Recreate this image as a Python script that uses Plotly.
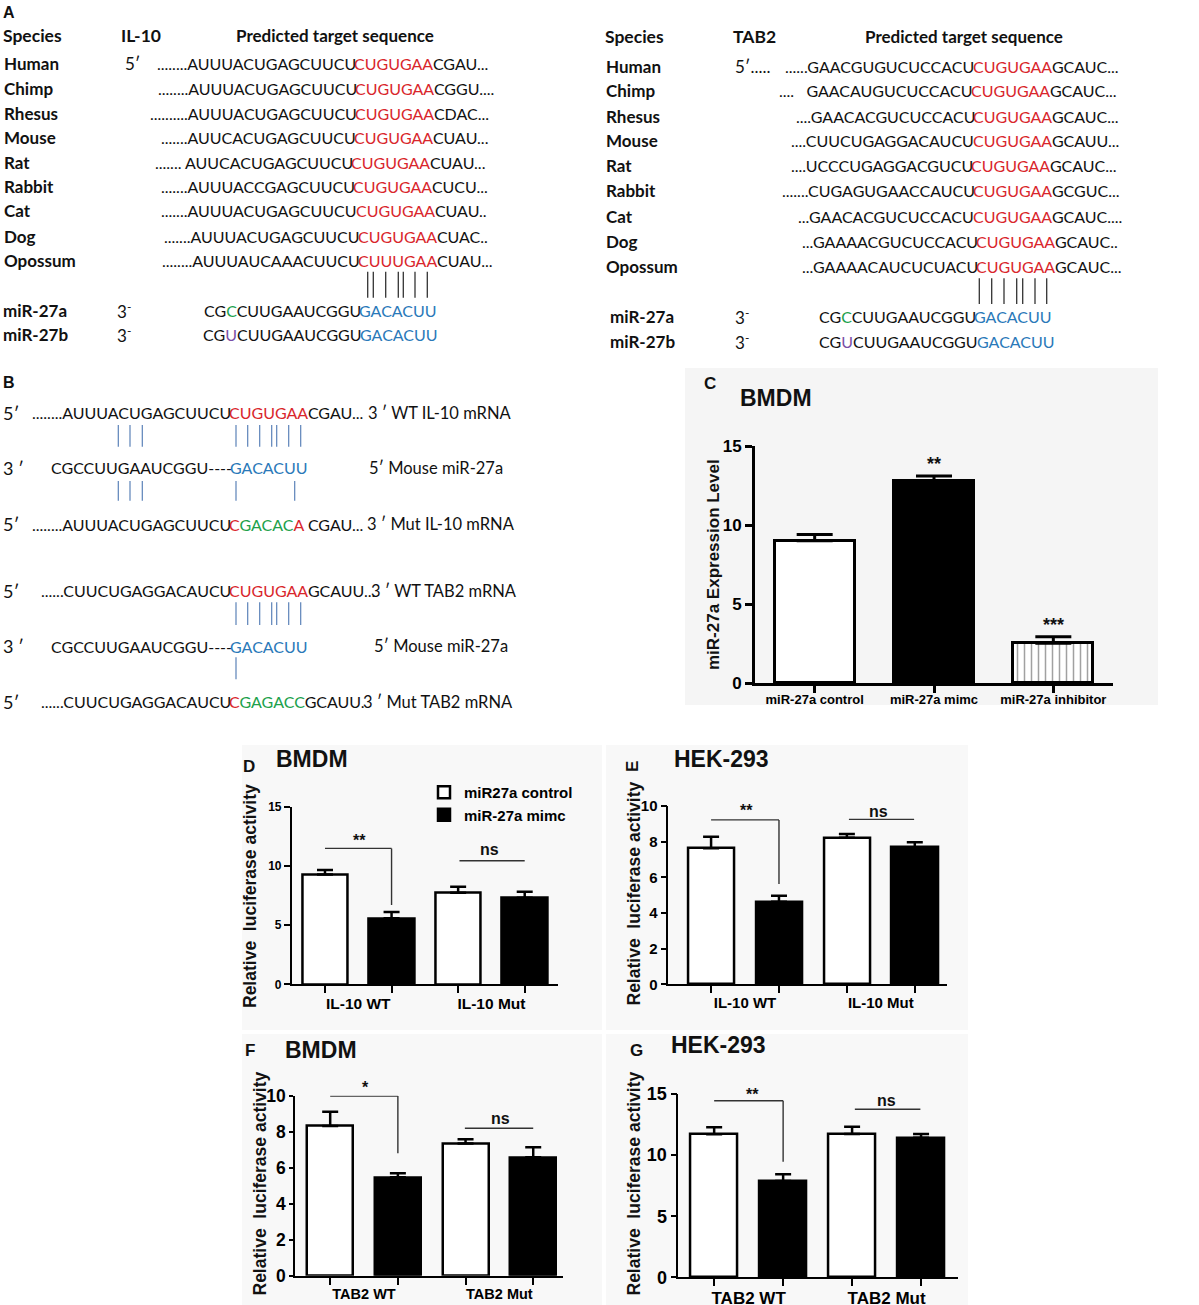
import plotly.graph_objects as go

W, H = 1199, 1305

# ======================= DATA =======================
species = ["Human", "Chimp", "Rhesus", "Mouse", "Rat", "Rabbit", "Cat", "Dog", "Opossum"]
il10_upstream = ["........AUUUACUGAGCUUCU", "........AUUUACUGAGCUUCU", "..........AUUUACUGAGCUUCU",
                 ".......AUUCACUGAGCUUCU", ".......\u00a0AUUCACUGAGCUUCU", ".......AUUUACCGAGCUUCU",
                 ".......AUUUACUGAGCUUCU", ".......AUUUACUGAGCUUCU", "........AUUUAUCAAACUUCU"]
il10_site = ["CUGUGAA", "CUGUGAA", "CUGUGAA", "CUGUGAA", "CUGUGAA", "CUGUGAA", "CUGUGAA", "CUGUGAA", "CUUUGAA"]
il10_downstream = ["CGAU...", "CGGU....", "CDAC...", "CUAU...", "CUAU...", "CUCU...", "CUAU..", "CUAC..", "CUAU..."]

tab2_upstream = ["......GAACGUGUCUCCACU", "....\u00a0\u00a0\u00a0GAACAUGUCUCCACU", "....GAACACGUCUCCACU",
                 "....CUUCUGAGGACAUCU", "....UCCCUGAGGACGUCU", ".......CUGAGUGAACCAUCU",
                 "...GAACACGUCUCCACU", "...GAAAACGUCUCCACU", "...GAAAACAUCUCUACU"]
tab2_site = ["CUGUGAA", "CUGUGAA", "CUGUGAA", "CUGUGAA", "CUGUGAA", "CUGUGAA", "CUGUGAA", "CUGUGAA", "CUGUGAA"]
tab2_downstream = ["GCAUC...", "GCAUC...", "GCAUC...", "GCAUU...", "GCAUC...", "GCGUC...", "GCAUC....", "GCAUC..", "GCAUC..."]

mir_names = ["miR-27a", "miR-27b"]
mir_5p = ["CG", "CG"]
mir_variant = ["C", "U"]
mir_middle = ["CUUGAAUCGGU", "CUUGAAUCGGU"]
mir_seed = ["GACACUU", "GACACUU"]

b_end = ["5\u2032", "3 \u2032", "5\u2032", "5\u2032", "3 \u2032", "5\u2032"]
b_upstream = ["........AUUUACUGAGCUUCU", "CGCCUUGAAUCGGU----", "........AUUUACUGAGCUUCU",
              "......CUUCUGAGGACAUCU", "CGCCUUGAAUCGGU----", "......CUUCUGAGGACAUCU"]
b_core = [[("CUGUGAA", "site")], [("GACACUU", "seed")], [("C", "site"), ("GACAC", "mut"), ("A", "site")],
          [("CUGUGAA", "site")], [("GACACUU", "seed")], [("C", "site"), ("GAGACC", "mut")]]
b_downstream = ["CGAU...", "", "\u00a0CGAU...", "GCAUU...", "", "GCAUU."]
b_labels = ["3 \u2032 WT IL-10 mRNA", "5\u2032 Mouse miR-27a", "3 \u2032 Mut IL-10 mRNA",
            "3 \u2032 WT TAB2 mRNA", "5\u2032 Mouse miR-27a", "3 \u2032 Mut TAB2 mRNA"]

c_categories = ["miR-27a control", "miR-27a mimc", "miR-27a inhibitor"]
c_values = [9.0, 12.78, 2.51]
c_errors = [0.40, 0.32, 0.42]
c_sig = ["", "**", "***"]

luc_series = ["miR27a control", "miR-27a mimc"]
d_groups = ["IL-10 WT", "IL-10 Mut"]
d_control = [9.28, 7.73]
d_control_err = [0.37, 0.51]
d_mimic = [5.57, 7.31]
d_mimic_err = [0.53, 0.50]
d_sig = ["**", "ns"]

e_groups = ["IL-10 WT", "IL-10 Mut"]
e_control = [7.63, 8.22]
e_control_err = [0.65, 0.21]
e_mimic = [4.63, 7.68]
e_mimic_err = [0.34, 0.28]
e_sig = ["**", "ns"]

f_groups = ["TAB2 WT", "TAB2 Mut"]
f_control = [8.32, 7.35]
f_control_err = [0.79, 0.23]
f_mimic = [5.47, 6.58]
f_mimic_err = [0.22, 0.55]
f_sig = ["*", "ns"]

g_groups = ["TAB2 WT", "TAB2 Mut"]
g_control = [11.70, 11.73]
g_control_err = [0.57, 0.60]
g_mimic = [7.88, 11.43]
g_mimic_err = [0.55, 0.30]
g_sig = ["**", "ns"]

# ======================= STYLE / LAYOUT =======================
SEQ = "Lato"
SANS = "Liberation Sans, Arial, sans-serif"
RED = "#d9262c"
BLUE = "#2a79b9"
GREEN = "#20a14b"
PURPLE = "#7a4ea6"
ROLE = {"site": RED, "seed": BLUE, "mut": GREEN}
VARIANT_COL = [GREEN, PURPLE]
TXT = "#111111"


def px(x):
    return x / W


def py(y):
    return 1 - y / H


annotations = []
shapes = []


def T(x, y, text, size, family=SEQ, bold=False, color=TXT, xanchor="left", angle=0,
      xref="paper", yref="paper"):
    annotations.append(dict(
        x=px(x) if xref == "paper" else x, y=py(y) if yref == "paper" else y,
        xref=xref, yref=yref, text=text, showarrow=False, xanchor=xanchor, yanchor="middle",
        textangle=angle, borderpad=0, borderwidth=0,
        font=dict(family=family, size=size, color=color, weight="bold" if bold else "normal")))


def L(x0, y0, x1, y1, color, width, xref="paper", yref="paper", layer="above"):
    if xref == "paper":
        x0, x1 = px(x0), px(x1)
    if yref == "paper":
        y0, y1 = py(y0), py(y1)
    shapes.append(dict(type="line", x0=x0, y0=y0, x1=x1, y1=y1, xref=xref, yref=yref,
                       line=dict(color=color, width=width), layer=layer))


def R(x0, y0, x1, y1, color):
    shapes.append(dict(type="rect", x0=px(x0), y0=py(y1), x1=px(x1), y1=py(y0), xref="paper",
                       yref="paper", line=dict(width=0), fillcolor=color, layer="below"))


# panel backgrounds
R(685, 368, 1158, 705, "#f5f5f5")
R(242, 745, 602, 1030, "#f8f8f8")
R(606, 745, 968, 1030, "#f8f8f8")
R(242, 1034, 602, 1305, "#f8f8f8")
R(606, 1034, 968, 1305, "#f8f8f8")

# ---------------- Panel A ----------------
SEQ_SIZE = 16
T(3, 13, "A", 16, family=SANS, bold=True)
A_sides = [
    dict(name_x=2.5, head_y=35, gene="IL-10", gene_x=121, pred_x=335, rows_y=[63.3, 88.3, 113.3, 137.3, 162.3, 186.7, 211, 236, 260.7],
         site_x=[354, 355, 355, 354, 351, 353.3, 355.7, 358.3, 358.3], up=il10_upstream, site=il10_site, down=il10_downstream,
         five_x=125, five_txt="5\u2032", mir_y=[310, 334], mir_name_x=2.7, three_x=117, seed_x=[359.3, 360],
         pair_x=[367.7, 373.3, 385.7, 398.3, 403.3, 415, 427.3], pair_y=(271.7, 297.7)),
    dict(name_x=605, head_y=36.7, gene="TAB2", gene_x=733, pred_x=964, rows_y=[66, 91, 116, 141, 165.7, 191, 216, 241, 266],
         site_x=[972.7, 970.7, 973.3, 972.7, 971, 973.3, 972.7, 976, 976], up=tab2_upstream, site=tab2_site, down=tab2_downstream,
         five_x=735, five_txt="5\u2032.....", mir_y=[316.7, 341.7], mir_name_x=610, three_x=735, seed_x=[974, 976.7],
         pair_x=[979.3, 991.7, 1004, 1016.7, 1022.7, 1035, 1046.7], pair_y=(278.3, 304)),
]
for s in A_sides:
    T(s["name_x"], s["head_y"], "Species", 17.5, bold=True)
    T(s["gene_x"], s["head_y"], s["gene"], 17.5, bold=True)
    T(s["pred_x"], s["head_y"], "Predicted target sequence", 17, bold=True, xanchor="center")
    T(s["five_x"], s["rows_y"][0], s["five_txt"], 17)
    for i, sp in enumerate(species):
        y = s["rows_y"][i]
        T(s["name_x"] + 1, y, sp, 17, bold=True)
        T(s["site_x"][i] + 1.5, y, s["up"][i], SEQ_SIZE, xanchor="right")
        T(s["site_x"][i], y, f"<span style='color:{RED}'>{s['site'][i]}</span>{s['down'][i]}", SEQ_SIZE)
    for xx in s["pair_x"]:
        L(xx, s["pair_y"][0], xx, s["pair_y"][1], "#333333", 1.3)
    for j, nm in enumerate(mir_names):
        y = s["mir_y"][j]
        T(s["mir_name_x"], y, nm, 17, bold=True)
        T(s["three_x"], y, "3<sup>-</sup>", 17)
        T(s["seed_x"][j] + 1.5, y, f"{mir_5p[j]}<span style='color:{VARIANT_COL[j]}'>{mir_variant[j]}</span>{mir_middle[j]}",
          SEQ_SIZE, xanchor="right")
        T(s["seed_x"][j], y, f"<span style='color:{BLUE}'>{mir_seed[j]}</span>", SEQ_SIZE)

# ---------------- Panel B ----------------
T(3, 383, "B", 16, family=SANS, bold=True)
B_rows_y = [412.7, 467.7, 524, 590.7, 646, 701.7]
B_core_x = [229.3, 230, 229.3, 229.3, 230, 229.3]
B_label_x = [368.3, 369.3, 366.7, 371, 374, 363.3]
for i in range(len(b_end)):
    y = B_rows_y[i]
    T(2.7, y, b_end[i], 18)
    T(B_core_x[i] + 1.5, y, b_upstream[i], SEQ_SIZE, xanchor="right")
    core = "".join(f"<span style='color:{ROLE[r]}'>{t}</span>" for t, r in b_core[i])
    T(B_core_x[i], y, core + b_downstream[i], SEQ_SIZE)
    T(B_label_x[i], y, b_labels[i], 16.5)
B_LINE = "#5b82b8"
B_pairs = [
    ([118.3, 130, 142.3, 236, 247.7, 259.7, 271.7, 276.7, 288.7, 300.7], (425, 446.7)),
    ([118.3, 130, 142.3, 236, 294.7], (481, 500.7)),
    ([236, 247.7, 259.7, 271.7, 276.7, 288.7, 300.7], (602.3, 625)),
    ([236], (657.3, 679.3)),
]
for xs, (ya, yb) in B_pairs:
    for xx in xs:
        L(xx, ya, xx, yb, B_LINE, 1.2)

# ---------------- Panel C ----------------
fig = go.Figure()
c_x = list(range(len(c_categories)))
fig.add_trace(go.Bar(
    x=c_x, y=c_values, width=0.67, showlegend=False,
    marker=dict(color=["white", "black", "white"], line=dict(color="black", width=3),
                pattern=dict(shape=["", "", "|"], fgcolor="black", size=7, solidity=0.22)),
    error_y=dict(type="data", symmetric=False, array=c_errors, arrayminus=[0] * len(c_values),
                 color="black", thickness=3, width=18),
    xaxis="x", yaxis="y"))
for i, s in enumerate(c_sig):
    if s:
        T(c_x[i], c_values[i] + c_errors[i] + 0.75, s, 18, family=SANS, bold=True, xanchor="center",
          xref="x", yref="y")
T(710, 383.3, "C", 17, family=SANS, bold=True, xanchor="center")
T(776, 398.3, "BMDM", 23, family=SANS, bold=True, xanchor="center")
T(713, 565, "miR-27a Expression Level", 17, family=SANS, bold=True, xanchor="center", angle=-90)

axis_common = dict(showgrid=False, zeroline=False, showline=True, linecolor="black", ticks="outside",
                   tickcolor="black", fixedrange=True, automargin=False)
layout_axes = {}
layout_axes["xaxis"] = dict(axis_common, domain=[px(755), px(1113)], range=[-0.5, 2.5], tickmode="array",
                            tickvals=c_x, ticktext=c_categories, linewidth=3, tickwidth=3, ticklen=7,
                            ticklabelstandoff=-5,
                            tickfont=dict(family=SANS, size=13, color="black", weight="bold"), anchor="y")
layout_axes["yaxis"] = dict(axis_common, domain=[py(683), py(446)], range=[0, 15], tickmode="array",
                            tickvals=[0, 5, 10, 15], linewidth=3, tickwidth=3, ticklen=7,
                            tickfont=dict(family=SANS, size=17, color="black", weight="bold"), anchor="x")

# ---------------- Panels D-G ----------------
luc_panels = [
    dict(groups=d_groups, ctrl=d_control, ctrl_err=d_control_err, mim=d_mimic, mim_err=d_mimic_err, sig=d_sig,
         ax=2, xdom=(291.7, 558), xr=[-0.5, 3.5], ydom=(984.3, 806.7), yr=[0, 15], ytv=[0, 5, 10, 15],
         ytick_size=12, yticklen=6, xlab_size=15.5, bracket=(11.48, 6.7), star=(0.52, 840.7), ns_span=(2.02, 3.0),
         ns_y=10.43, ns_txt=(2.47, 850), title="BMDM", title_xy=(311.5, 759), letter="D", letter_xy=(249, 766),
         letter_angle=0, ytitle_xy=(250, 896), legend=True),
    dict(groups=e_groups, ctrl=e_control, ctrl_err=e_control_err, mim=e_mimic, mim_err=e_mimic_err, sig=e_sig,
         ax=3, xdom=(668.3, 946.7), xr=[-0.63, 3.47], ydom=(984.3, 806), yr=[0, 10], ytv=[0, 2, 4, 6, 8, 10],
         ytick_size=15, yticklen=6, xlab_size=15, bracket=(9.22, 5.63), star=(0.52, 810.7), ns_span=(2.03, 2.99),
         ns_y=9.25, ns_txt=(2.46, 811.7), title="HEK-293", title_xy=(721.5, 759), letter="E", letter_xy=(632, 767),
         letter_angle=-90, ytitle_xy=(633, 893.5), legend=False),
    dict(groups=f_groups, ctrl=f_control, ctrl_err=f_control_err, mim=f_mimic, mim_err=f_mimic_err, sig=f_sig,
         ax=4, xdom=(295, 563), xr=[-0.52, 3.44], ydom=(1275.7, 1095.7), yr=[0, 10], ytv=[0, 2, 4, 6, 8, 10],
         ytick_size=17.5, yticklen=4, xlab_size=14.5, bracket=(9.98, 6.8), star=(0.52, 1087.5), ns_span=(1.99, 3.0),
         ns_y=8.19, ns_txt=(2.52, 1118), title="BMDM", title_xy=(321, 1050), letter="F", letter_xy=(250, 1050),
         letter_angle=0, ytitle_xy=(259, 1183.5), legend=False),
    dict(groups=g_groups, ctrl=g_control, ctrl_err=g_control_err, mim=g_mimic, mim_err=g_mimic_err, sig=g_sig,
         ax=5, xdom=(678.3, 958.3), xr=[-0.52, 3.54], ydom=(1277.3, 1094), yr=[0, 15], ytv=[0, 5, 10, 15],
         ytick_size=18, yticklen=6, xlab_size=17, bracket=(14.45, 9.46), star=(0.55, 1094), ns_span=(2.04, 2.99),
         ns_y=13.75, ns_txt=(2.5, 1100), title="HEK-293", title_xy=(718, 1045), letter="G", letter_xy=(636.7, 1050),
         letter_angle=0, ytitle_xy=(633, 1183.5), legend=False),
]

for p in luc_panels:
    k = p["ax"]
    xa, ya = f"x{k}", f"y{k}"
    n = len(p["groups"])
    x_ctrl = [2 * g for g in range(n)]
    x_mim = [2 * g + 1 for g in range(n)]
    fig.add_trace(go.Bar(
        x=x_ctrl, y=p["ctrl"], width=0.68, name=luc_series[0], showlegend=p["legend"], legendrank=1,
        marker=dict(color="white", line=dict(color="black", width=2.5)),
        error_y=dict(type="data", symmetric=False, array=p["ctrl_err"], arrayminus=[0] * n,
                     color="black", thickness=2.5, width=8),
        xaxis=xa, yaxis=ya))
    fig.add_trace(go.Bar(
        x=x_mim, y=p["mim"], width=0.68, name=luc_series[1], showlegend=p["legend"], legendrank=2,
        marker=dict(color="black", line=dict(color="black", width=2.5)),
        error_y=dict(type="data", symmetric=False, array=p["mim_err"], arrayminus=[0] * n,
                     color="black", thickness=2.5, width=8),
        xaxis=xa, yaxis=ya))
    layout_axes[f"xaxis{k}"] = dict(
        axis_common, domain=[px(p["xdom"][0]), px(p["xdom"][1])], range=p["xr"], anchor=ya,
        tickmode="array", tickvals=[2 * g + 0.5 for g in range(n)], ticktext=p["groups"],
        tickcolor="rgba(0,0,0,0)", ticklen=7, linewidth=1.6, ticklabelstandoff=-3,
        minor=dict(tickmode="array", tickvals=x_ctrl + x_mim, ticks="outside", ticklen=7, tickwidth=1.6,
                   tickcolor="black", showgrid=False),
        tickfont=dict(family=SANS, size=p["xlab_size"], color="black", weight="bold"))
    layout_axes[f"yaxis{k}"] = dict(
        axis_common, domain=[py(p["ydom"][0]), py(p["ydom"][1])], range=p["yr"], anchor=xa,
        tickmode="array", tickvals=p["ytv"], ticklen=p["yticklen"], tickwidth=1.6, linewidth=1.6,
        tickfont=dict(family=SANS, size=p["ytick_size"], color="black", weight="bold"))
    # significance marks
    L(0, p["bracket"][0], 1, p["bracket"][0], "#333333", 1.4, xref=xa, yref=ya)
    L(1, p["bracket"][0], 1, p["bracket"][1], "#333333", 1.4, xref=xa, yref=ya)
    T(p["star"][0], p["star"][1], p["sig"][0], 16, family=SANS, bold=True, xanchor="center", xref=xa)
    L(p["ns_span"][0], p["ns_y"], p["ns_span"][1], p["ns_y"], "#333333", 1.4, xref=xa, yref=ya)
    T(p["ns_txt"][0], p["ns_txt"][1], p["sig"][1], 16, family=SANS, bold=True, xanchor="center", xref=xa)
    # titles
    T(p["title_xy"][0], p["title_xy"][1], p["title"], 23, family=SANS, bold=True, xanchor="center")
    T(p["letter_xy"][0], p["letter_xy"][1], p["letter"], 17, family=SANS, bold=True, xanchor="center",
      angle=p["letter_angle"])
    T(p["ytitle_xy"][0], p["ytitle_xy"][1], "Relative\u00a0\u00a0luciferase activity", 17.5, family=SANS,
      bold=True, xanchor="center", angle=-90)

fig.update_layout(
    width=W, height=H, margin=dict(l=0, r=0, t=0, b=0, pad=0, autoexpand=False),
    paper_bgcolor="white", plot_bgcolor="rgba(0,0,0,0)",
    barmode="overlay", bargap=0,
    annotations=annotations, shapes=shapes,
    legend=dict(x=px(424), y=py(776), xanchor="left", yanchor="top", bgcolor="rgba(0,0,0,0)",
                font=dict(family=SANS, size=15, color="black", weight="bold"), itemwidth=30,
                tracegroupgap=0),
    **layout_axes,
)

fig.write_html("out.html", config={"displayModeBar": False},
               post_script="document.body.style.margin='0px';")
